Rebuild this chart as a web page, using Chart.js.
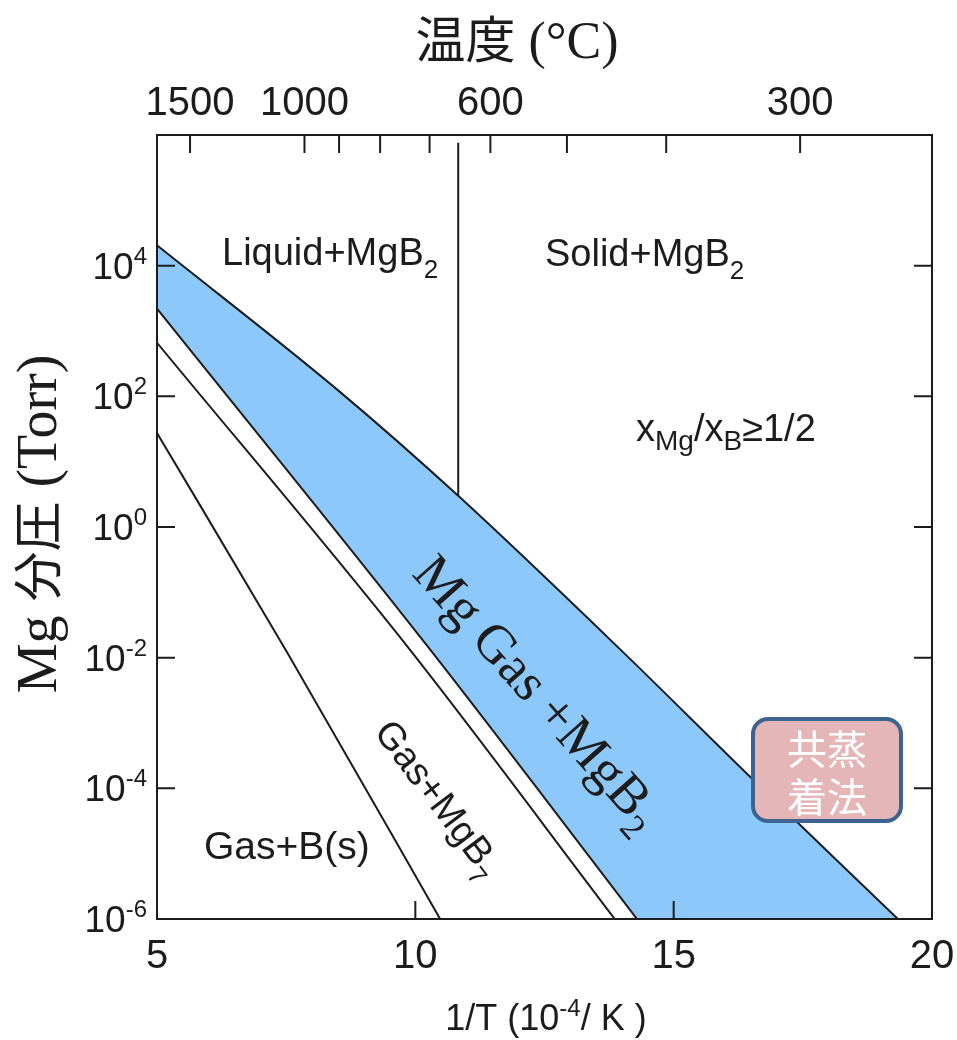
<!DOCTYPE html>
<html>
<head>
<meta charset="utf-8">
<script src="https://cdn.jsdelivr.net/npm/chart.js@4.4.1/dist/chart.umd.min.js"></script>
<style>
  html, body { margin: 0; padding: 0; background: #ffffff; }
  canvas { display: block; }
</style>
</head>
<body>
<canvas id="phase" width="957" height="1040"></canvas>
<script>
// Axes: 1/T in 10^-4 K^-1, Mg partial pressure in Torr
const xTickValues = [5, 10, 15, 20];
const yTickExponents = [-6, -4, -2, 0, 2, 4];
const tempTicksC = [1500, 1000, 900, 800, 700, 600, 500, 400, 300];
const tempLabelsC = [1500, 1000, 600, 300];

// Boundary between condensed Mg + MgB2 and Mg gas + MgB2
const gasUpperX = [5.0, 8.54, 10.83, 13.96, 16.48, 19.34];
const gasUpperP = [2.05e4, 1.17e2, 3.0, 1.35e-2, 1.5e-4, 1.0e-6];

// Lower limit of the Mg gas + MgB2 field
const mgb2LowerX = [5.0, 10.28, 14.29];
const mgb2LowerP = [2.2e3, 1.35e-2, 1.0e-6];

// Upper limit of the Gas + MgB7 field
const mgb7UpperX = [5.0, 9.84, 13.86];
const mgb7UpperP = [6.6e2, 1.5e-2, 1.0e-6];

// Gas + MgB7 / Gas + B(s) boundary
const boronX = [5.0, 7.52, 10.48];
const boronP = [2.75e1, 1.2e-2, 1.0e-6];

// Mg melting point (650 °C) between liquid and solid Mg
const meltX = [10.83, 10.83];
const meltP = [7.6e5, 3.0];

const SANS = '"Liberation Sans", Arial, Helvetica, sans-serif';
const SERIF = '"Liberation Serif", "Times New Roman", serif';
const CJK = '"Noto Sans CJK JP", "Noto Sans CJK SC", sans-serif';
const INK = '#1c1c1c';

const pts = (xs, ps) => xs.map((x, i) => ({ x: x, y: ps[i] }));

function drawRuns(ctx, parts, x, y, align) {
  let w = 0;
  parts.forEach(p => { ctx.font = p.font; p.w = ctx.measureText(p.t).width; w += p.w; });
  let cx = align === 'center' ? x - w / 2 : (align === 'right' ? x - w : x);
  ctx.textAlign = 'left';
  ctx.textBaseline = 'alphabetic';
  parts.forEach(p => { ctx.font = p.font; ctx.fillText(p.t, cx, y + (p.dy || 0)); cx += p.w; });
}

function roundRect(ctx, x, y, w, h, r) {
  ctx.beginPath();
  ctx.moveTo(x + r, y);
  ctx.lineTo(x + w - r, y);
  ctx.arcTo(x + w, y, x + w, y + r, r);
  ctx.lineTo(x + w, y + h - r);
  ctx.arcTo(x + w, y + h, x + w - r, y + h, r);
  ctx.lineTo(x + r, y + h);
  ctx.arcTo(x, y + h, x, y + h - r, r);
  ctx.lineTo(x, y + r);
  ctx.arcTo(x, y, x + r, y, r);
  ctx.closePath();
}

const frameAndText = {
  id: 'frameAndText',
  afterDatasetsDraw(chart) {
    const { ctx, chartArea: a, scales: { x, y } } = chart;
    ctx.save();

    // frame and inward ticks
    ctx.strokeStyle = INK;
    ctx.lineWidth = 2;
    ctx.strokeRect(a.left, a.top, a.right - a.left, a.bottom - a.top);
    const T = 18;
    ctx.beginPath();
    yTickExponents.forEach(e => {
      const py = y.getPixelForValue(Math.pow(10, e));
      if (py > a.top + 1 && py < a.bottom - 1) {
        ctx.moveTo(a.left, py); ctx.lineTo(a.left + T, py);
        ctx.moveTo(a.right, py); ctx.lineTo(a.right - T, py);
      }
    });
    xTickValues.forEach(v => {
      const px = x.getPixelForValue(v);
      if (px > a.left + 1 && px < a.right - 1) {
        ctx.moveTo(px, a.bottom); ctx.lineTo(px, a.bottom - T);
      }
    });
    tempTicksC.forEach(t => {
      const px = x.getPixelForValue(1e4 / (t + 273.15));
      ctx.moveTo(px, a.top); ctx.lineTo(px, a.top + T);
    });
    ctx.stroke();

    ctx.fillStyle = INK;

    // bottom tick labels
    ctx.font = '40px ' + SANS;
    ctx.textAlign = 'center';
    ctx.textBaseline = 'alphabetic';
    xTickValues.forEach(v => ctx.fillText(String(v), x.getPixelForValue(v), 968));

    // temperature labels along the top
    tempLabelsC.forEach(t => ctx.fillText(String(t), x.getPixelForValue(1e4 / (t + 273.15)), 115));

    // pressure labels with exponents
    yTickExponents.forEach(e => {
      const py = y.getPixelForValue(Math.pow(10, e));
      drawRuns(ctx, [
        { t: '10', font: '37px ' + SANS, dy: 13 },
        { t: String(e), font: '24px ' + SANS, dy: -2 }
      ], 147, py, 'right');
    });

    // axis titles
    drawRuns(ctx, [
      { t: '1/T (10', font: '36px ' + SANS },
      { t: '-4', font: '24px ' + SANS, dy: -14 },
      { t: '/ K )', font: '36px ' + SANS }
    ], 546, 1030, 'center');

    drawRuns(ctx, [
      { t: '温度', font: '50px ' + CJK },
      { t: ' (°C)', font: '52px ' + SERIF }
    ], 517, 58, 'center');

    ctx.save();
    ctx.translate(56, 524);
    ctx.rotate(-Math.PI / 2);
    drawRuns(ctx, [
      { t: 'Mg ', font: '56px ' + SERIF },
      { t: '分圧', font: '50px ' + CJK },
      { t: ' (Torr)', font: '56px ' + SERIF }
    ], 0, 0, 'center');
    ctx.restore();

    // field labels
    drawRuns(ctx, [
      { t: 'Liquid+MgB', font: '38px ' + SANS },
      { t: '2', font: '26px ' + SANS, dy: 13 }
    ], 222, 265, 'left');
    drawRuns(ctx, [
      { t: 'Solid+MgB', font: '38px ' + SANS },
      { t: '2', font: '26px ' + SANS, dy: 13 }
    ], 545, 266, 'left');
    drawRuns(ctx, [
      { t: 'x', font: '38px ' + SANS },
      { t: 'Mg', font: '28px ' + SANS, dy: 9 },
      { t: '/x', font: '38px ' + SANS },
      { t: 'B', font: '28px ' + SANS, dy: 9 },
      { t: '≥1/2', font: '38px ' + SANS }
    ], 636, 441, 'left');
    drawRuns(ctx, [{ t: 'Gas+B(s)', font: '39px ' + SANS }], 204, 859, 'left');

    ctx.save();
    ctx.translate(439, 798);
    ctx.rotate(53 * Math.PI / 180);
    drawRuns(ctx, [
      { t: 'Gas+MgB', font: '38px ' + SANS },
      { t: '7', font: '26px ' + SANS, dy: 12 }
    ], 0, 13, 'center');
    ctx.restore();

    ctx.save();
    ctx.translate(539, 692);
    ctx.rotate(48.5 * Math.PI / 180);
    drawRuns(ctx, [
      { t: 'Mg Gas +MgB', font: '54px ' + SERIF },
      { t: '2', font: '36px ' + SERIF, dy: 13 }
    ], 0, 18, 'center');
    ctx.restore();

    // co-evaporation window marker
    roundRect(ctx, 753, 719, 148, 102, 15);
    ctx.fillStyle = '#e4b6b7';
    ctx.fill();
    ctx.lineWidth = 4;
    ctx.strokeStyle = '#3e6391';
    ctx.stroke();
    ctx.fillStyle = '#ffffff';
    ctx.font = '40px ' + CJK;
    ctx.textAlign = 'center';
    ctx.textBaseline = 'middle';
    ctx.fillText('共蒸', 827, 749);
    ctx.fillText('着法', 827, 797);

    ctx.restore();
  }
};

const lineStyle = {
  borderColor: INK,
  borderWidth: 2,
  pointRadius: 0,
  cubicInterpolationMode: 'monotone'
};

new Chart(document.getElementById('phase'), {
  type: 'line',
  data: {
    datasets: [
      Object.assign({ label: 'melting', data: pts(meltX, meltP), fill: false }, lineStyle),
      Object.assign({ label: 'Gas+B(s)', data: pts(boronX, boronP), fill: false }, lineStyle),
      Object.assign({ label: 'Gas+MgB7', data: pts(mgb7UpperX, mgb7UpperP), fill: false }, lineStyle),
      Object.assign({ label: 'MgB2 lower', data: pts(mgb2LowerX, mgb2LowerP), fill: 'start', backgroundColor: '#ffffff' }, lineStyle),
      Object.assign({ label: 'Mg gas upper', data: pts(gasUpperX, gasUpperP), fill: 'start', backgroundColor: '#8dc8fb' }, lineStyle)
    ]
  },
  options: {
    responsive: false,
    animation: false,
    devicePixelRatio: 1,
    layout: { padding: { left: 157, top: 135, right: 25, bottom: 121 } },
    plugins: { legend: { display: false }, tooltip: { enabled: false } },
    scales: {
      x: { type: 'linear', min: 5, max: 20, display: false },
      y: { type: 'logarithmic', min: 1e-6, max: 1e6, display: false }
    }
  },
  plugins: [frameAndText]
});
</script>
</body>
</html>
